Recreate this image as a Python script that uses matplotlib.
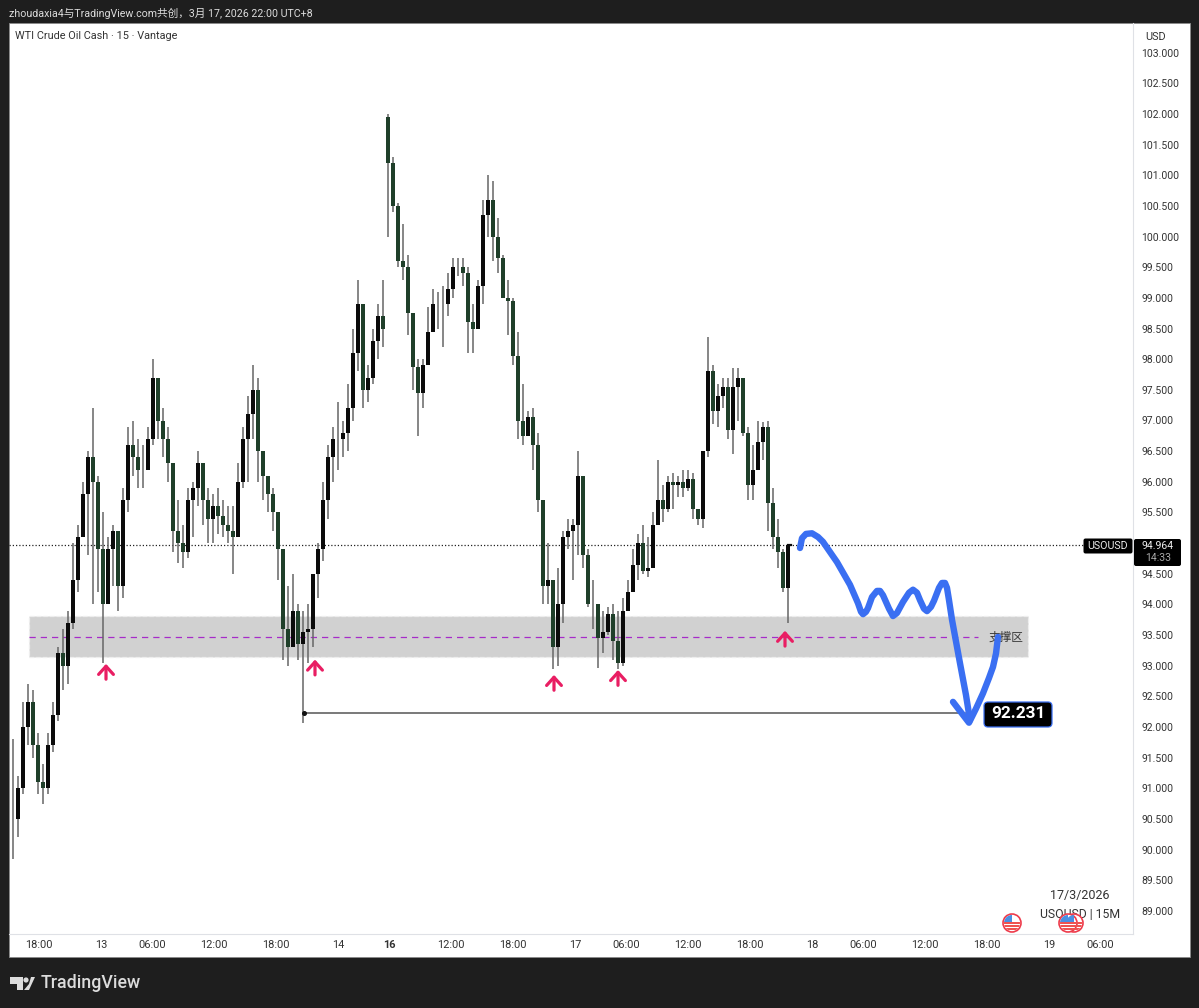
import matplotlib
matplotlib.use('Agg')
import matplotlib.pyplot as plt
from matplotlib.patches import Rectangle, Circle, Polygon, FancyBboxPatch
from matplotlib.transforms import Affine2D
import numpy as np

plt.rcParams['font.family'] = ['Roboto', 'Noto Sans CJK SC', 'DejaVu Sans']

# 30 minute bars
closes = [90.5, 91.0, 92.0, 92.4, 91.7, 91.1, 91.0, 91.7, 92.2, 93.2,
          93.0, 93.7, 94.4, 95.1, 95.8, 96.4, 96.0, 94.9, 94.0, 94.9,
          95.2, 94.3, 95.7, 96.6, 96.4, 96.2, 96.2, 96.7, 97.7, 97.0,
          96.7, 96.3, 95.2, 95.0, 94.85, 95.7, 95.9, 96.3, 95.7, 95.4,
          95.6, 95.45, 95.3, 95.2, 95.1, 96.0, 96.7, 97.1, 97.5, 96.5,
          96.1, 95.8, 95.5, 94.9, 93.6, 93.3, 93.9, 93.35, 93.55, 93.6,
          94.5, 94.9, 95.7, 96.4, 96.7, 96.7, 96.8, 97.2, 98.1, 98.9,
          97.5, 97.7, 98.3, 98.7, 98.5, 101.2, 100.5, 99.6, 99.5, 98.75,
          97.87, 97.45, 97.9, 98.45, 98.9, 98.9, 98.9, 99.15, 99.5, 99.5,
          99.4, 98.6, 98.5, 99.2, 100.35, 100.6, 100.0, 99.65, 99.0, 98.95,
          98.05, 97.0, 96.75, 97.05, 96.6, 95.7, 94.3, 94.4, 93.3, 94.0,
          95.1, 95.2, 95.3, 96.1, 94.8, 94.0, 94.0, 93.45, 93.55, 93.85,
          93.4, 93.05, 93.9, 94.2, 94.65, 95.0, 94.55, 94.6, 95.3, 95.7,
          95.55, 96.0, 95.95, 96.0, 95.9, 96.05, 95.55, 95.4, 96.5, 97.8,
          97.15, 97.4, 97.55, 96.85, 97.55, 97.7, 96.8, 95.95, 96.2, 96.65,
          96.9, 95.65, 95.1, 94.85, 94.27, 94.964]
highs = [91.8, 91.2, 92.4, 92.7, 92.6, 91.9, 91.4, 91.9, 92.4, 93.3,
         93.6, 93.9, 95.0, 95.3, 96.0, 96.5, 97.2, 96.1, 95.5, 95.1,
         95.3, 95.0, 95.9, 96.9, 97.0, 96.7, 96.6, 96.9, 98.0, 97.5,
         97.2, 96.9, 96.0, 95.7, 95.3, 95.9, 96.0, 96.5, 96.3, 95.9,
         95.8, 95.9, 95.7, 95.6, 95.6, 96.3, 96.9, 97.4, 97.9, 97.7,
         96.5, 96.1, 95.9, 95.3, 94.9, 94.3, 94.5, 94.0, 93.9, 94.0,
         94.5, 95.0, 96.0, 96.6, 96.9, 97.3, 97.0, 97.6, 98.5, 99.3,
         98.1, 97.9, 98.5, 98.9, 99.3, 102.0, 101.3, 100.55, 100.2, 99.7,
         98.7, 98.0, 98.0, 98.85, 99.15, 99.1, 99.2, 99.4, 99.65, 99.65,
         99.65, 99.5, 98.9, 99.3, 100.6, 101.0, 100.9, 100.3, 99.7, 99.3,
         99.0, 98.45, 97.6, 97.15, 97.2, 96.8, 95.6, 95.0, 94.3, 94.6,
         95.2, 95.4, 95.4, 96.5, 95.8, 94.9, 94.4, 94.0, 93.9, 93.95,
         94.0, 93.9, 94.1, 94.4, 94.9, 95.15, 95.3, 95.1, 95.5, 96.35,
         95.95, 96.1, 96.15, 96.1, 96.2, 96.2, 96.15, 95.5, 96.5, 98.37,
         97.9, 97.6, 97.7, 97.7, 97.85, 97.85, 97.6, 96.9, 96.6, 97.0,
         96.98, 97.0, 95.9, 95.4, 94.9, 94.97]
lows = [89.85, 90.2, 90.9, 91.7, 91.5, 90.9, 90.75, 90.9, 91.6, 92.1,
        92.6, 92.7, 93.6, 94.2, 95.3, 94.8, 94.0, 94.2, 93.05, 94.2,
        94.3, 93.9, 94.1, 95.5, 96.1, 95.9, 95.9, 96.2, 96.6, 96.7,
        96.4, 96.0, 94.85, 94.68, 94.6, 94.75, 95.1, 95.6, 95.3, 95.0,
        95.0, 95.15, 95.1, 95.0, 94.5, 95.1, 95.9, 96.0, 96.7, 96.0,
        95.7, 95.5, 95.2, 94.4, 93.1, 93.0, 93.3, 93.1, 92.07, 93.05,
        93.3, 94.1, 94.7, 95.4, 96.0, 96.2, 96.4, 96.5, 97.0, 97.8,
        97.2, 97.3, 97.6, 98.0, 98.2, 100.0, 100.4, 99.5, 99.3, 98.4,
        97.5, 96.75, 97.2, 97.9, 98.45, 98.5, 98.2, 98.7, 99.0, 99.35,
        99.2, 98.1, 98.1, 98.8, 98.9, 100.0, 99.6, 99.4, 99.0, 98.4,
        97.9, 96.7, 96.6, 96.85, 96.2, 95.5, 94.0, 94.0, 92.95, 93.0,
        93.7, 94.9, 94.4, 94.8, 94.6, 93.95, 93.6, 92.97, 93.2, 93.5,
        93.1, 92.95, 93.0, 93.9, 94.2, 94.4, 94.5, 94.45, 94.9, 95.3,
        95.35, 95.5, 95.55, 95.75, 95.75, 95.85, 95.4, 95.3, 95.25, 96.4,
        96.95, 96.9, 97.2, 96.7, 96.45, 97.0, 96.75, 95.7, 95.7, 96.3,
        96.35, 95.2, 94.9, 94.6, 94.2, 93.7]
gap_index = 75
gap_open = 101.95

time_ticks = [5.2, 17.6, 27.8, 40.2, 52.6, 65, 75.2, 87.6, 100, 112.4,
              122.6, 135, 147.4, 159.8, 170, 182.4, 194.8, 207.2, 217.4]
time_labels = ['18:00', '13', '06:00', '12:00', '18:00', '14', '16', '12:00', '18:00', '17',
               '06:00', '12:00', '18:00', '18', '06:00', '12:00', '18:00', '19', '06:00']
price_ticks = np.arange(89, 103.5, 0.5)

last_price = 94.964
target_price = 92.231
zone_top, zone_bottom, zone_mid = 93.81, 93.14, 93.47
zone_x = [3.2, 203]
zone_mid_end = 193
target_line_x = [58.2, 190.5]

arrow_x = [18.6, 60.4, 108.2, 121, 154.4]
arrow_tip = [93.03, 93.1, 92.85, 92.93, 93.57]

plan_x = [157.4, 157.8, 158.6, 159.8, 161.0, 162.0, 164.8, 167.4, 169.0, 169.6, 170.0, 170.6, 171.0,
          171.8, 172.8, 173.4, 174.0, 175.2, 176.0, 176.8, 178.0, 179.2, 180.0, 180.8, 181.4, 182.2,
          182.8, 183.6, 184.2, 185.2, 185.8, 186.4, 186.8, 187.2, 187.8, 189.4, 190.6, 191.4]
plan_y = [94.92, 95.08, 95.15, 95.16, 95.10, 95.02, 94.69, 94.32, 94.02, 93.88, 93.84, 93.88, 93.94,
          94.12, 94.22, 94.22, 94.15, 93.93, 93.81, 93.86, 94.04, 94.19, 94.24, 94.19, 94.07, 93.93,
          93.89, 93.96, 94.06, 94.27, 94.35, 94.35, 94.27, 94.07, 93.75, 93.04, 92.52, 92.11]
hook_x = [188.0, 191.2, 192.6, 194.0, 195.2, 196.0, 196.6, 197.0]
hook_y = [92.41, 92.07, 92.3, 92.55, 92.8, 92.98, 93.2, 93.47]

BG = '#1e1e1e'
UP = '#0b0b0b'
DOWN = '#1f3f2a'
WICK = '#666666'
TXT = '#333333'
BLUE = '#3a6ff2'
PINK = '#e91e63'

fig = plt.figure(figsize=(11.99, 10.08), dpi=100, facecolor=BG)
# pixel coordinates of the screenshot, y going down
px = Affine2D().scale(1 / 1199, -1 / 1008).translate(0, 1) + fig.transFigure


def draw_chrome():
    fig.add_artist(Rectangle((9, 23), 1181, 934, transform=px, fc='white', ec='#8a8a8a', lw=0.6, zorder=-5))
    fig.text(9, 13, 'zhoudaxia4与TradingView.com共创，3月 17, 2026 22:00 UTC+8', transform=px,
             color='#dcdcdc', fontsize=7.7, va='center')
    # logo
    fig.add_artist(Polygon([(10, 977), (23, 977), (23, 990), (16.5, 990), (16.5, 983.5), (10, 983.5)],
                           transform=px, fc='#dcdcdc', ec='none'))
    fig.add_artist(Circle((26, 980), 2.6, transform=px, fc='#dcdcdc', ec='none'))
    fig.add_artist(Polygon([(29, 984), (31, 977), (35, 977), (29, 990), (24, 990)],
                           transform=px, fc='#dcdcdc', ec='none'))
    fig.text(41, 983, 'TradingView', transform=px, color='#dcdcdc', fontsize=12.8,
             fontweight='medium', va='center')


def draw_flag(x, y):
    clip = Circle((x, y), 8, transform=px, fc='white', ec='none')
    fig.add_artist(Circle((x, y), 9, transform=px, fc='white', ec='#ee3b4b', lw=1.2, zorder=6))
    for k in range(3):
        s = Rectangle((x - 8, y - 1 + k * 3.2), 16, 1.8, transform=px, fc='#ef5350', ec='none', zorder=7)
        fig.add_artist(s)
        s.set_clip_path(clip)
    q = Rectangle((x - 8, y - 8), 8, 7, transform=px, fc='#4a90e2', ec='none', zorder=7)
    fig.add_artist(q)
    q.set_clip_path(clip)


def draw_chart():
    ax = fig.add_axes([9 / 1199, 1 - 934 / 1008, 1124 / 1199, 911 / 1008], facecolor='none')
    ax.set_xlim(-0.8, 224)
    ax.set_ylim(102 - (934 - 114) / 61.3, 102 + (114 - 23) / 61.3)

    ax.add_patch(Rectangle((zone_x[0], zone_bottom), zone_x[1] - zone_x[0], zone_top - zone_bottom,
                           fc='#d1d1d1', ec='#eeeeee', lw=0.9, ls='--', zorder=1))
    ax.plot([zone_x[0], zone_mid_end], [zone_mid, zone_mid], color='#a62bc9', lw=0.9, ls=(0, (5, 4)), zorder=2)
    ax.text(202, zone_mid, '支撑区', ha='right', va='center', fontsize=8.4, color=TXT, zorder=2)

    ax.axhline(last_price, color='#222222', lw=0.9, ls=(0, (1, 1.6)), zorder=2)

    ind = np.arange(len(closes))
    opens = np.array([closes[0]] + closes[:-1])
    opens[gap_index] = gap_open
    c = np.array(closes)
    colors = [UP if c[i] >= opens[i] else DOWN for i in ind]
    ax.vlines(ind, lows, highs, color=WICK, lw=1.1, zorder=3)
    ax.bar(ind, c - opens, bottom=opens, width=0.62, color=colors, lw=0, zorder=4)
    ax.plot([ind[-1], ind[-1] + 0.7], [last_price, last_price], color=UP, lw=1.6, zorder=4)

    ax.plot(target_line_x, [target_price, target_price], color='#555555', lw=1.1, zorder=3)
    ax.plot(target_line_x[0], target_price, 'o', color='#111111', ms=2.6, zorder=4)

    for x, tip in zip(arrow_x, arrow_tip):
        ax.annotate('', xy=(x, tip), xytext=(x, tip - 0.25), zorder=5,
                    arrowprops=dict(arrowstyle='->,head_length=0.42,head_width=0.38', color=PINK, lw=2.3,
                                    mutation_scale=14, shrinkA=0, shrinkB=0))

    ax.plot(plan_x, plan_y, color=BLUE, lw=4.6, solid_capstyle='round', solid_joinstyle='round', zorder=6)
    ax.plot(hook_x, hook_y, color=BLUE, lw=4.6, solid_capstyle='round', solid_joinstyle='round', zorder=6)

    ax.yaxis.tick_right()
    ax.set_yticks(price_ticks)
    # 95.000 sits under the last price box
    ax.set_yticklabels(['' if p == 95 else '%.3f' % p for p in price_ticks], color=TXT, fontsize=7.5)
    ax.set_xticks(time_ticks)
    ax.set_xticklabels(time_labels, color=TXT, fontsize=7.9)
    ax.get_xticklabels()[6].set_fontweight('bold')
    ax.tick_params(axis='both', length=0)
    ax.tick_params(axis='y', pad=6)
    ax.tick_params(axis='x', pad=4)
    for side in ['top', 'left']:
        ax.spines[side].set_visible(False)
    for side in ['right', 'bottom']:
        ax.spines[side].set_color('#dfe1e6')
        ax.spines[side].set_linewidth(0.8)
    return ax


def draw_labels():
    fig.text(15, 36, 'WTI Crude Oil Cash · 15 · Vantage', transform=px, color=TXT, fontsize=7.8, va='center')
    fig.add_artist(Rectangle((1135, 26), 50, 20, transform=px, fc='white', ec='none', zorder=8))
    fig.text(1145, 37, 'USD', transform=px, color=TXT, fontsize=7.8, va='center', zorder=9)

    fig.add_artist(FancyBboxPatch((1085, 540), 46, 12, boxstyle='round,pad=1.5,rounding_size=2', transform=px,
                                  fc='black', ec='none', zorder=8))
    fig.text(1108, 546, 'USOUSD', transform=px, color='#eeeeee', fontsize=7.7, ha='center', va='center', zorder=9)
    fig.add_artist(FancyBboxPatch((1135, 540), 45, 25, boxstyle='round,pad=1,rounding_size=2', transform=px,
                                  fc='black', ec='none', zorder=8))
    fig.text(1158, 546, '94.964', transform=px, color='#eeeeee', fontsize=7.6, ha='center', va='center', zorder=9)
    fig.text(1158, 558, '14:33', transform=px, color='#a8a8a8', fontsize=7.6, ha='center', va='center', zorder=9)

    fig.add_artist(FancyBboxPatch((986, 704), 64, 21, boxstyle='round,pad=2,rounding_size=4', transform=px,
                                  fc='black', ec=BLUE, lw=0.9, zorder=8))
    fig.text(1018, 714, '92.231', transform=px, color='white', fontsize=12.4, fontweight='bold',
             ha='center', va='center', zorder=9)

    fig.text(1080, 895, '17/3/2026', transform=px, color=TXT, fontsize=9, ha='center', va='center', zorder=5)
    fig.text(1080, 915, 'USOUSD | 15M', transform=px, color=TXT, fontsize=8.8, ha='center', va='center', zorder=5)
    for x in [1012, 1074, 1068]:
        draw_flag(x, 923)


def main():
    draw_chrome()
    draw_chart()
    draw_labels()
    fig.savefig('out.png', dpi=100, facecolor=BG)


if __name__ == '__main__':
    main()
